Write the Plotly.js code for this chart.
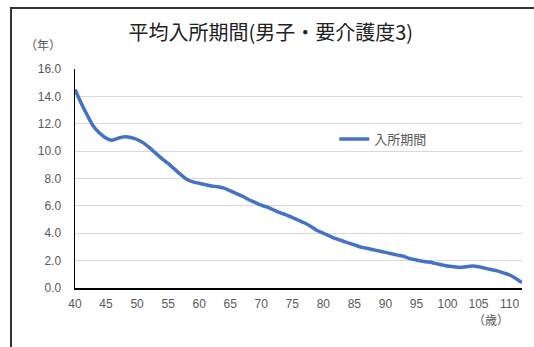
<!DOCTYPE html>
<html>
<head>
<meta charset="utf-8">
<script src="https://cdn.plot.ly/plotly-3.0.1.min.js"></script>
<style>
html,body{margin:0;padding:0;background:#fff;}
#wrap{position:relative;width:534px;height:347px;overflow:hidden;}
#chart{width:534px;height:347px;}
#frame{position:absolute;left:10px;top:7px;width:600px;height:400px;border:2px solid #333;box-sizing:border-box;pointer-events:none;}
</style>
</head>
<body>
<div id="wrap"><div id="chart"></div><div id="frame"></div></div>
<script>
const ages = [40,41,42,43,44,45,46,47,48,49,50,51,52,53,54,55,56,57,58,59,60,61,62,63,64,65,66,67,68,69,70,71,72,73,74,75,76,77,78,79,80,81,82,83,84,85,86,87,88,89,90,91,92,93,94,95,96,97,98,99,100,101,102,103,104,105,106,107,108,109,110,111,112];
const stayYears = [14.5,13.5,12.6,11.8,11.3,10.95,10.8,10.95,11.05,11.0,10.85,10.6,10.25,9.85,9.45,9.1,8.7,8.3,7.95,7.75,7.65,7.55,7.45,7.4,7.3,7.1,6.9,6.7,6.45,6.25,6.05,5.9,5.7,5.5,5.35,5.15,4.95,4.75,4.5,4.2,4.0,3.8,3.6,3.45,3.3,3.15,3.0,2.9,2.8,2.7,2.6,2.5,2.4,2.3,2.15,2.05,1.95,1.9,1.8,1.7,1.6,1.55,1.5,1.55,1.6,1.55,1.45,1.35,1.25,1.1,0.95,0.7,0.4];
const xTicks = [40,45,50,55,60,65,70,75,80,85,90,95,100,105,110];
const yTicks = [0,2,4,6,8,10,12,14,16];
const seriesName = "入所期間";
const titleText = "平均入所期間(男子・要介護度3)";

const font = "Liberation Sans, Arial, Noto Sans CJK JP, sans-serif";
const cjk = "Noto Sans CJK JP, sans-serif";

Plotly.newPlot("chart", [{
  x: ages, y: stayYears, type: "scatter", mode: "lines", name: seriesName,
  line: {color: "#4472C4", width: 3.5, shape: "spline", smoothing: 0.8}
}], {
  width: 534, height: 347,
  margin: {l: 75, r: 12, t: 69, b: 59},
  paper_bgcolor: "#fff", plot_bgcolor: "#fff",
  title: {text: titleText, font: {family: cjk, size: 20, color: "#222"}, xref: "container", x: 0.507, yref: "container", y: 0.905, yanchor: "middle", xanchor: "center"},
  showlegend: true,
  legend: {x: 0.58, y: 0.68, xanchor: "left", yanchor: "middle", itemwidth: 30, font: {family: cjk, size: 13, color: "#595959"}, bgcolor: "rgba(0,0,0,0)"},
  xaxis: {range: [40, 112], tickvals: xTicks, ticktext: xTicks.map(String), showgrid: false, zeroline: false,
    showline: true, linecolor: "#000", linewidth: 1.5, ticks: "", ticklabelstandoff: 4, tickfont: {family: font, size: 12, color: "#595959"}},
  yaxis: {range: [0, 16], tickvals: yTicks, ticktext: yTicks.map(v => v.toFixed(1)), showgrid: true, gridcolor: "#d9d9d9", gridwidth: 1,
    zeroline: false, showline: true, linecolor: "#000", linewidth: 1.5, ticks: "", ticklabelstandoff: 10, tickfont: {family: font, size: 12, color: "#595959"}},
  annotations: [
    {text: "（年）", xref: "paper", yref: "paper", x: -0.0705, y: 1.1096, showarrow: false, xanchor: "center", yanchor: "middle", font: {family: cjk, size: 12, color: "#595959"}},
    {text: "（歳）", xref: "paper", yref: "paper", x: 0.9306, y: -0.1416, showarrow: false, xanchor: "center", yanchor: "middle", font: {family: cjk, size: 12, color: "#595959"}}
  ]
}, {displayModeBar: false, staticPlot: true});
</script>
</body>
</html>
